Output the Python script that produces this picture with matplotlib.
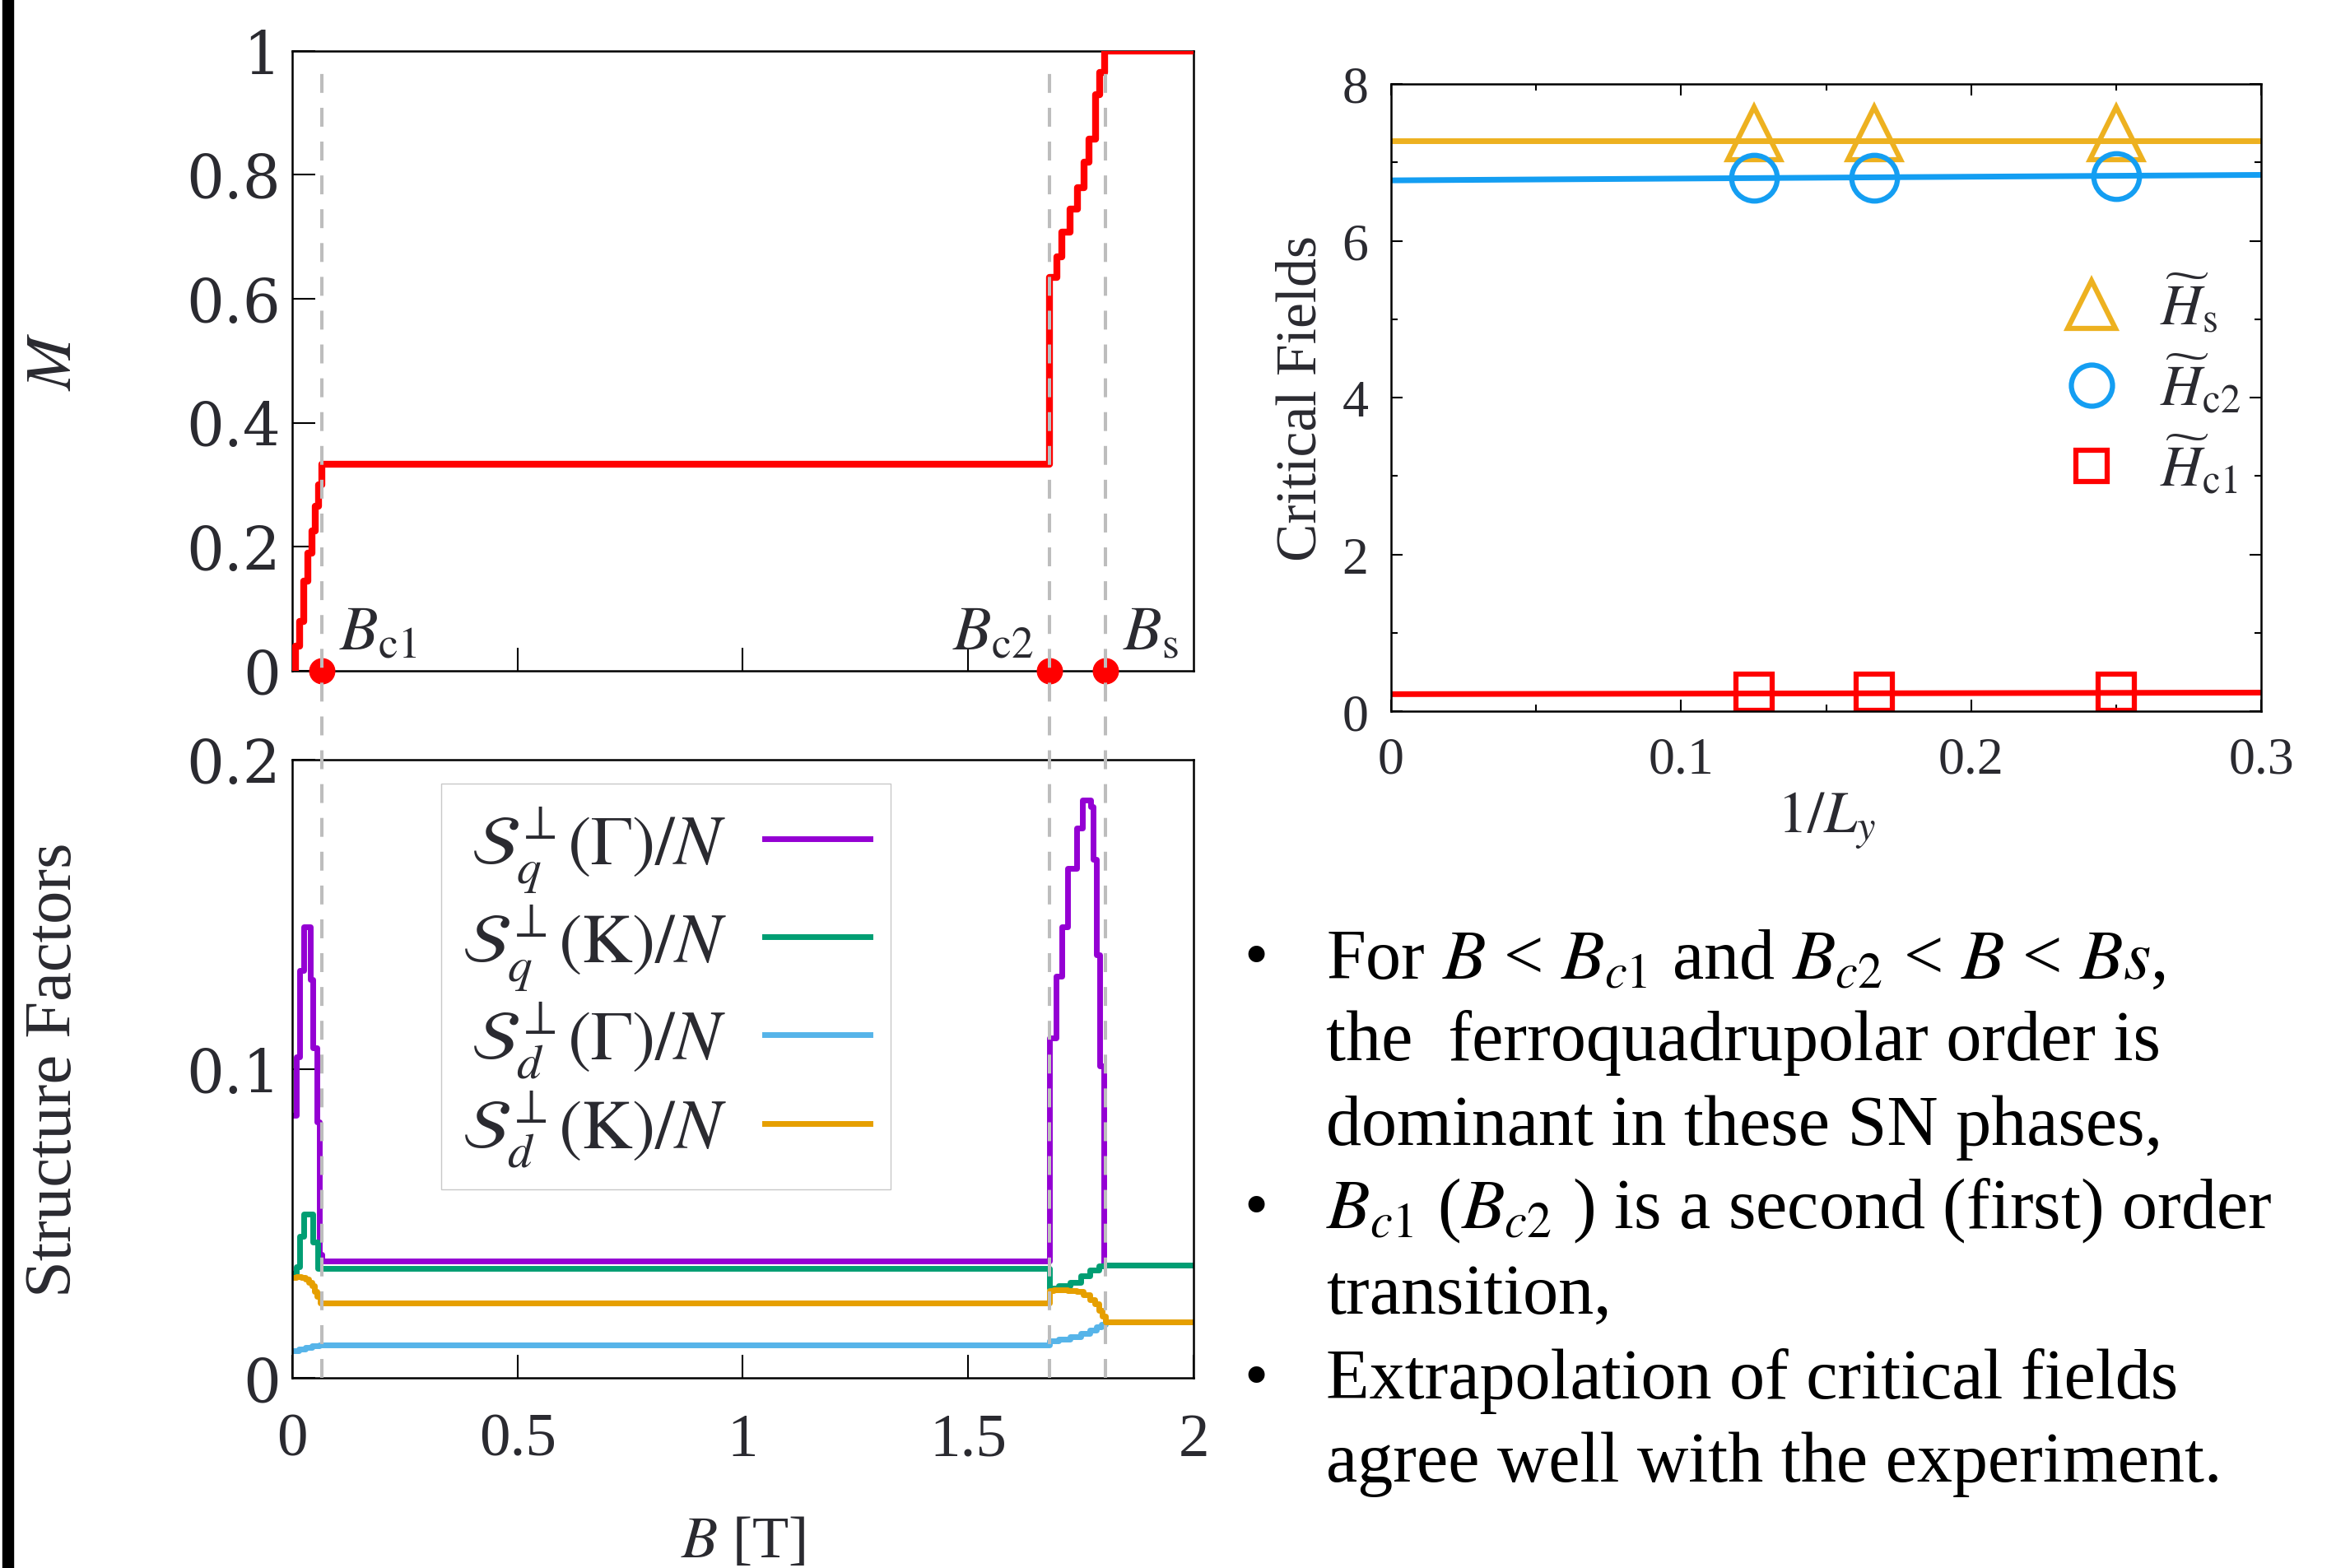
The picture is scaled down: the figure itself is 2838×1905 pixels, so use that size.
import numpy as np
import matplotlib
matplotlib.use("Agg")
import matplotlib.pyplot as plt
from matplotlib.lines import Line2D
from matplotlib.patches import Rectangle
from matplotlib.transforms import blended_transform_factory

plt.rcParams["font.family"] = "serif"
plt.rcParams["font.serif"] = ["Liberation Serif", "DejaVu Serif"]
plt.rcParams["mathtext.fontset"] = "stix"

# ---------------- Data ----------------
# magnetization curve M(B)
m_field = [0.0, 0.007, 0.016, 0.026, 0.036, 0.044, 0.051, 0.059, 0.067,
           1.681, 1.697, 1.708, 1.725, 1.743, 1.757, 1.768, 1.782, 1.791, 1.802, 2.0]
m_values = [0.0, 0.04, 0.08, 0.145, 0.19, 0.225, 0.265, 0.30, 0.333,
            0.635, 0.668, 0.707, 0.745, 0.78, 0.82, 0.858, 0.93, 0.965, 1.0, 1.0]

# critical fields (T)
b_crit = [0.067, 1.681, 1.804]
b_crit_labels = [r"$B_{\mathrm{c1}}$", r"$B_{\mathrm{c2}}$", r"$B_{\mathrm{s}}$"]

# structure factors
sq_gamma_b = [0.0, 0.010, 0.016, 0.026, 0.040, 0.047, 0.055, 0.061, 0.066,
              1.681, 1.694, 1.708, 1.721, 1.741, 1.754, 1.772, 1.777, 1.785, 1.792, 1.800, 2.0]
sq_gamma = [0.085, 0.104, 0.132, 0.146, 0.129, 0.107, 0.083, 0.040, 0.038,
            0.110, 0.130, 0.146, 0.165, 0.178, 0.187, 0.185, 0.168, 0.137, 0.101, 0.0367, 0.0367]

sq_k_b = [0.0, 0.010, 0.016, 0.026, 0.047, 0.057,
          1.681, 1.700, 1.725, 1.750, 1.770, 1.790, 1.802, 2.0]
sq_k = [0.034, 0.036, 0.046, 0.053, 0.044, 0.0354,
        0.029, 0.0298, 0.031, 0.033, 0.035, 0.0362, 0.0367, 0.0367]

sd_gamma_b = [0.0, 0.015, 0.030, 0.045, 0.060,
              1.681, 1.700, 1.725, 1.750, 1.770, 1.785, 1.795, 1.804, 2.0]
sd_gamma = [0.0090, 0.0095, 0.0100, 0.0104, 0.0107,
            0.0120, 0.0127, 0.0135, 0.0145, 0.0155, 0.0165, 0.0175, 0.0183, 0.0183]

sd_k_b = [0.0, 0.010, 0.020, 0.030, 0.037, 0.044, 0.050, 0.056, 0.062,
          1.681, 1.690, 1.720, 1.740, 1.755, 1.770, 1.780, 1.790, 1.797, 1.804, 2.0]
sd_k = [0.0326, 0.0328, 0.0325, 0.032, 0.031, 0.0298, 0.028, 0.0265, 0.0243,
        0.0284, 0.0285, 0.0284, 0.028, 0.027, 0.0255, 0.024, 0.022, 0.020, 0.0183, 0.0183]

sf_labels = [r"$\mathcal{S}_q^{\perp}(\Gamma)/N$", r"$\mathcal{S}_q^{\perp}(\mathrm{K})/N$",
             r"$\mathcal{S}_d^{\perp}(\Gamma)/N$", r"$\mathcal{S}_d^{\perp}(\mathrm{K})/N$"]

# finite-size extrapolation
inv_ly = [0.125, 1 / 6, 0.25]
h_s = [7.37, 7.37, 7.37]
h_c2 = [6.80, 6.80, 6.82]
h_c1 = [0.24, 0.24, 0.24]
fit_x = [0.0, 0.3]
h_s_fit = [7.28, 7.28]
h_c2_fit = [6.77, 6.84]
h_c1_fit = [0.22, 0.24]

bullets = [
    ("•", "For $B$ < $B_{c1}$ and $B_{c2}$ < $B$ < $Bs$,"),
    ("", "the  ferroquadrupolar order is"),
    ("", "dominant in these SN phases,"),
    ("•", "$B_{c1}$ ($B_{c2}$ ) is a second (first) order"),
    ("", "transition,"),
    ("•", "Extrapolation of critical fields"),
    ("", "agree well with the experiment."),
]

# ---------------- Figure ----------------
fig = plt.figure(figsize=(28.38, 19.06), dpi=100)
fig.add_artist(Rectangle((0.001, 0), 0.0048, 1, transform=fig.transFigure,
                         color="black", zorder=10))

ink = "#2a2a30"
ax_m = fig.add_axes([0.125, 0.572, 0.386, 0.395])
ax_s = fig.add_axes([0.125, 0.121, 0.386, 0.394])
ax_h = fig.add_axes([0.5955, 0.546, 0.3725, 0.4])

# --- magnetization ---
ax_m.step(m_field, m_values, where="post", color="red", lw=6, zorder=3)
ax_m.plot(b_crit, [0, 0, 0], "o", color="red", ms=22, clip_on=False, zorder=6)
ax_m.text(0.105, 0.035, b_crit_labels[0], fontsize=55, color=ink, ha="left", va="baseline")
ax_m.text(1.645, 0.035, b_crit_labels[1], fontsize=55, color=ink, ha="right", va="baseline")
ax_m.text(1.843, 0.035, b_crit_labels[2], fontsize=55, color=ink, ha="left", va="baseline")
ax_m.set_xlim(0, 2)
ax_m.set_ylim(0, 1)
ax_m.set_yticks([0, 0.2, 0.4, 0.6, 0.8, 1])
ax_m.set_yticklabels(["0", "0.2", "0.4", "0.6", "0.8", "1"])
ax_m.set_xticks([0.5, 1, 1.5])
ax_m.set_xticklabels([])
ax_m.set_ylabel("$M$", fontsize=56, color=ink)
ax_m.yaxis.set_label_coords(-0.23, 0.5)

# --- structure factors ---
sf_b = [sq_gamma_b, sq_k_b, sd_gamma_b, sd_k_b]
sf_v = [sq_gamma, sq_k, sd_gamma, sd_k]
sf_colors = ["#9400D3", "#009E73", "#56B4E9", "#E69F00"]
for b, v, c, lab in zip(sf_b, sf_v, sf_colors, sf_labels):
    ax_s.step(b, v, where="post", color=c, lw=5, label=lab)
ax_s.set_xlim(0, 2)
ax_s.set_ylim(0, 0.2)
ax_s.set_yticks([0, 0.1, 0.2])
ax_s.set_yticklabels(["0", "0.1", "0.2"])
ax_s.set_xticks([0, 0.5, 1, 1.5, 2])
ax_s.set_xticklabels(["0", "0.5", "1", "1.5", "2"])
ax_s.set_ylabel("Structure Factors", fontsize=58, color=ink)
ax_s.yaxis.set_label_coords(-0.23, 0.5)
leg = ax_s.legend(loc="upper left", bbox_to_anchor=(0.165, 0.962), borderaxespad=0,
                  fontsize=61, markerfirst=False, handlelength=1.5, labelspacing=0.12,
                  fancybox=False, framealpha=1, edgecolor="#c8c8c8",
                  borderpad=0.3, handletextpad=0.55)
for t in leg.get_texts():
    t.set_color(ink)

for ax in (ax_m, ax_s):
    ax.tick_params(direction="in", length=20, width=1.5, colors="black",
                   labelcolor=ink)
    ax.tick_params(axis="y", labelsize=52, pad=10)
    for lab in ax.get_yticklabels():
        lab.set_fontfamily("DejaVu Serif")
    for sp in ax.spines.values():
        sp.set_linewidth(1.8)
ax_s.tick_params(axis="x", labelsize=54, pad=30)

# dashed markers of the critical fields spanning both panels
trans = blended_transform_factory(ax_m.transData, fig.transFigure)
for b in b_crit:
    fig.add_artist(Line2D([b, b], [0.121, 0.958], transform=trans, color="#bdbdbd",
                          lw=2.9, dashes=(5.7, 4.5), zorder=4))

ax_s.set_xlabel("$B$ [T]", fontsize=52, color=ink)
ax_s.xaxis.set_label_coords(0.5, -0.222)

# --- critical fields vs 1/Ly ---
c_s, c_c2, c_c1 = "#EDB120", "#149EF2", "#FF0000"
ax_h.plot(fit_x, h_s_fit, color=c_s, lw=5)
ax_h.plot(fit_x, h_c2_fit, color=c_c2, lw=5)
ax_h.plot(fit_x, h_c1_fit, color=c_c1, lw=5)
ax_h.plot(inv_ly, h_s, "^", ms=46, mfc="none", mec=c_s, mew=4.5, ls="none",
          label=r"$\widetilde{H}_{\mathrm{s}}$")
ax_h.plot(inv_ly, h_c2, "o", ms=40, mfc="none", mec=c_c2, mew=4.5, ls="none",
          label=r"$\widetilde{H}_{\mathrm{c2}}$")
ax_h.plot(inv_ly, h_c1, "s", ms=31, mfc="none", mec=c_c1, mew=4.5, ls="none",
          label=r"$\widetilde{H}_{\mathrm{c1}}$")
ax_h.set_xlim(0, 0.3)
ax_h.set_ylim(0, 8)
ax_h.set_xticks([0, 0.1, 0.2, 0.3])
ax_h.set_xticklabels(["0", "0.1", "0.2", "0.3"])
ax_h.set_xticks([0.05, 0.15, 0.25], minor=True)
ax_h.set_yticks([0, 2, 4, 6, 8])
ax_h.set_yticks([1, 3, 5, 7], minor=True)
ax_h.tick_params(which="both", direction="in", top=True, right=True,
                 width=1.5, labelsize=46, labelcolor=ink)
ax_h.tick_params(which="major", length=10)
ax_h.tick_params(which="minor", length=6)
ax_h.tick_params(axis="y", pad=20)
ax_h.tick_params(axis="x", pad=22)
for sp in ax_h.spines.values():
    sp.set_linewidth(1.8)
ax_h.set_ylabel("Critical Fields", fontsize=50, color=ink)
ax_h.yaxis.set_label_coords(-0.072, 0.5)
ax_h.set_xlabel("$1/L_y$", fontsize=52, color=ink)
ax_h.xaxis.set_label_coords(0.5, -0.125)
hleg = ax_h.legend(loc="upper left", bbox_to_anchor=(0.68, 0.78), frameon=False,
                   fontsize=50, handletextpad=0.2, labelspacing=0.3,
                   markerscale=0.9)
for t in hleg.get_texts():
    t.set_color(ink)

# --- bullet text ---
line_y = [645, 700, 757, 813, 870, 927, 983]
for (mark, txt), y in zip(bullets, line_y):
    yf = 1 - y / 1053
    if mark:
        fig.text(843 / 1568, yf, mark, fontsize=60, ha="center", va="center")
    fig.text(890 / 1568, yf, txt, fontsize=62, ha="left", va="center", color="black")

fig.savefig("out.png", dpi=100)
plt.close(fig)
